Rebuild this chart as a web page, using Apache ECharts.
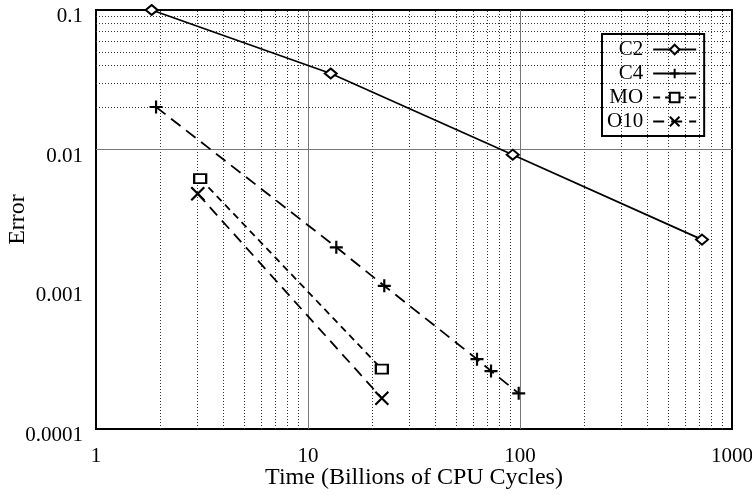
<!DOCTYPE html>
<html><head><meta charset="utf-8">
<script src="https://cdn.jsdelivr.net/npm/echarts@6/dist/echarts.min.js"></script>
<style>html,body{margin:0;padding:0;background:#fff}#c{width:752px;height:495px}</style>
</head><body><div id="c"></div>
<script>
const xTicks = [1, 10, 100, 1000];
const yTicks = [0.0001, 0.001, 0.01, 0.1];
const c2X = [1.83, 12.8, 92.4, 722];
const c2Y = [0.1, 0.0351, 0.0092, 0.00227];
const c4X = [1.92, 13.6, 22.9, 62.7, 73, 98.6];
const c4Y = [0.0202, 0.0020, 0.00106, 0.000316, 0.00026, 0.00018];
const moX = [3.1, 22.3];
const moY = [0.0062, 0.000268];
const o10X = [3.02, 22.3];
const o10Y = [0.00483, 0.000166];
const minorMult = [2, 3, 4, 5, 6, 7, 8, 9];

const zip = (a, b) => a.map((v, i) => [v, b[i]]);
const FONT = 'Liberation Serif';

const vMinor = [], vMajor = [], hMinor = [], hMajor = [];
xTicks.slice(0, -1).forEach((d, i) => {
  minorMult.forEach(m => vMinor.push({ xAxis: d * m }));
  if (i > 0) vMajor.push({ xAxis: d });
});
yTicks.slice(0, -1).forEach((d, i) => {
  minorMult.forEach(m => hMinor.push({ yAxis: d * m }));
  if (i > 0) hMajor.push({ yAxis: d });
});

const gridSeries = (data, style) => ({
  type: 'line', data: [], silent: true, z: 1,
  markLine: { silent: true, symbol: 'none', label: { show: false }, lineStyle: style, data: data, animation: false }
});

const fmt = v => String(Number(v.toPrecision(3)));

const chart = echarts.init(document.getElementById('c'));
chart.setOption({
  animation: false,
  backgroundColor: '#fff',
  grid: { left: 96, right: 20, top: 10, bottom: 66, containLabel: false, outerBoundsMode: 'none', show: true, borderColor: '#000', borderWidth: 2, backgroundColor: 'transparent' },
  xAxis: {
    type: 'log', min: 1, max: 1000, logBase: 10,
    name: 'Time (Billions of CPU Cycles)', nameLocation: 'middle', nameGap: 37, nameMoveOverlap: false,
    nameTextStyle: { fontFamily: FONT, fontSize: 24, color: '#000', verticalAlign: 'top' },
    axisLine: { show: false }, axisTick: { show: false }, splitLine: { show: false },
    axisLabel: { fontFamily: FONT, fontSize: 21, color: '#000', margin: 17, formatter: fmt }
  },
  yAxis: {
    type: 'log', min: 0.0001, max: 0.1, logBase: 10,
    name: 'Error', nameLocation: 'middle', nameGap: 66, nameRotate: 90, nameMoveOverlap: false,
    nameTextStyle: { fontFamily: FONT, fontSize: 24, color: '#000' },
    axisLine: { show: false }, axisTick: { show: false }, splitLine: { show: false },
    axisLabel: { fontFamily: FONT, fontSize: 21, color: '#000', margin: 13, formatter: fmt, verticalAlign: 'top', padding: [-4, 0, 0, 0] }
  },
  legend: {
    data: ['C2', { name: 'C4', lineStyle: { type: 'solid' } }, 'MO', 'O10'],
    orient: 'vertical', left: 602, top: 34, align: 'right',
    backgroundColor: '#fff', borderColor: '#000', borderWidth: 2, borderRadius: 0,
    padding: [5, 7, 4, 5], itemGap: 3, itemWidth: 43, itemHeight: 12,
    textStyle: { fontFamily: FONT, fontSize: 21, color: '#000', width: 36, align: 'right', padding: [0, 5, 0, 0] }
  },
  series: [
    gridSeries(vMinor, { color: '#333', type: [1, 2], width: 1 }),
    gridSeries(hMinor, { color: '#333', type: [1, 2], width: 1 }),
    gridSeries(vMajor, { color: '#777', type: 'solid', width: 1 }),
    gridSeries(hMajor, { color: '#777', type: 'solid', width: 1 }),
    {
      name: 'C2', type: 'line', data: zip(c2X, c2Y), z: 5,
      symbol: 'diamond', symbolSize: [12, 10], showAllSymbol: true,
      lineStyle: { color: '#000', width: 1.8, type: 'solid' },
      itemStyle: { color: '#fff', borderColor: '#000', borderWidth: 2 }
    },
    {
      name: 'C4', type: 'line', data: zip(c4X, c4Y), z: 5,
      symbol: 'path://M0,6H12M6,0V12', symbolSize: 13, symbolKeepAspect: true,
      lineStyle: { color: '#000', width: 1.8, type: [12, 7] },
      itemStyle: { color: 'none', borderColor: '#000', borderWidth: 2.2 }
    },
    {
      name: 'MO', type: 'line', data: zip(moX, moY), z: 5,
      symbol: 'rect', symbolSize: [12, 9],
      lineStyle: { color: '#000', width: 1.8, type: [7, 5] },
      itemStyle: { color: '#fff', borderColor: '#000', borderWidth: 2 }
    },
    {
      name: 'O10', type: 'line', data: zip(o10X, o10Y), z: 5,
      symbol: 'path://M0,0L12,12M12,0L0,12', symbolSize: 13, symbolKeepAspect: true,
      lineStyle: { color: '#000', width: 1.8, type: [11, 7] },
      itemStyle: { color: 'none', borderColor: '#000', borderWidth: 2.2 }
    }
  ]
});
</script></body></html>
